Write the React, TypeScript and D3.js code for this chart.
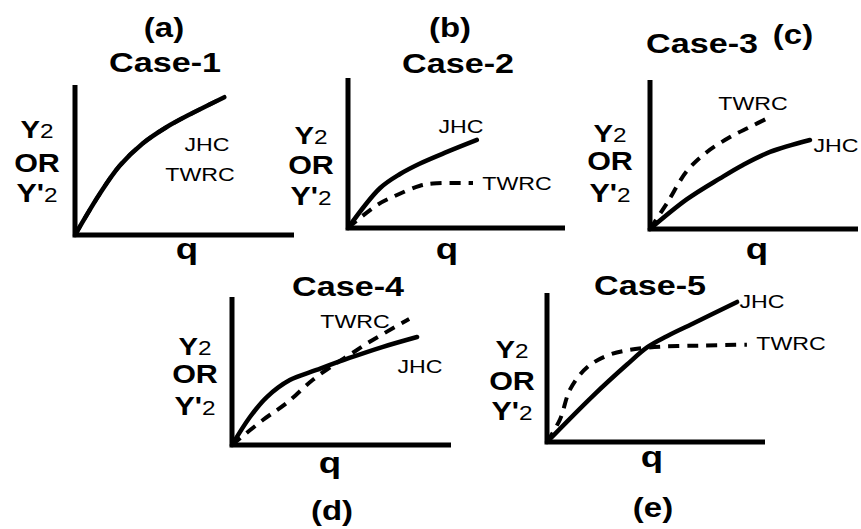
import React from 'react';
import * as d3 from 'd3';

// curve points as [q, Y] fractions of the drawn axis lengths
const jhcA: [number, number][] = [[0, 0], [0.111, 0.27], [0.203, 0.46], [0.309, 0.61], [0.419, 0.72], [0.539, 0.815], [0.682, 0.919]];
const twrcA: [number, number][] = [[0, 0], [0.111, 0.27], [0.203, 0.46], [0.309, 0.61], [0.419, 0.72], [0.539, 0.815], [0.682, 0.919]];

const jhcB: [number, number][] = [[0, 0], [0.147, 0.265], [0.24, 0.36], [0.332, 0.43], [0.456, 0.507], [0.594, 0.587]];
const twrcB: [number, number][] = [[0, 0], [0.134, 0.153], [0.226, 0.22], [0.332, 0.282], [0.41, 0.298], [0.576, 0.3]];

const jhcC: [number, number][] = [[0, 0], [0.178, 0.2], [0.337, 0.34], [0.447, 0.43], [0.577, 0.517], [0.769, 0.597]];
const twrcC: [number, number][] = [[0, 0], [0.082, 0.174], [0.178, 0.39], [0.274, 0.517], [0.385, 0.617], [0.481, 0.685], [0.577, 0.752]];

const jhcD: [number, number][] = [[0, 0], [0.082, 0.189], [0.159, 0.324], [0.264, 0.439], [0.386, 0.507], [0.536, 0.588], [0.686, 0.662], [0.845, 0.73]];
const twrcD: [number, number][] = [[0, 0], [0.141, 0.169], [0.25, 0.284], [0.368, 0.439], [0.477, 0.554], [0.536, 0.608], [0.627, 0.696], [0.809, 0.851]];

const jhcE: [number, number][] = [[0, 0], [0.211, 0.31], [0.367, 0.52], [0.459, 0.635], [0.55, 0.71], [0.67, 0.795], [0.872, 0.94]];
const twrcE: [number, number][] = [[0, 0], [0.06, 0.153], [0.106, 0.353], [0.183, 0.5], [0.289, 0.587], [0.459, 0.633], [0.702, 0.647], [0.917, 0.653]];

const caseTitles = ['Case-1', 'Case-2', 'Case-3', 'Case-4', 'Case-5'];
const panelTags = ['(a)', '(b)', '(c)', '(d)', '(e)'];
const seriesNames = ['JHC', 'TWRC'];
const xLabel = 'q';

const jhcSeries = [jhcA, jhcB, jhcC, jhcD, jhcE];
const twrcSeries = [twrcA, twrcB, twrcC, twrcD, twrcE];

// where each little plot sits on the page
const layout = [
  { x0: 75, y0: 235, top: 85, xEnd: 294, title: [165, 72], tag: [164, 37], ylab: [37, 138, 172, 202], q: [187, 259], jhc: [207, 151], twrc: [200, 181] },
  { x0: 348, y0: 228, top: 78, xEnd: 565, title: [458, 73], tag: [450, 37], ylab: [311, 144, 174, 205], q: [447, 259], jhc: [461, 133], twrc: [517, 190] },
  { x0: 650, y0: 229, top: 80, xEnd: 858, title: [702, 53], tag: [793, 44], ylab: [610, 142, 170, 202], q: [757, 259], jhc: [836, 152], twrc: [753, 110] },
  { x0: 232, y0: 445, top: 297, xEnd: 451, title: [348, 296], tag: [332, 520], ylab: [195, 355, 383, 415], q: [330, 473], jhc: [420, 373], twrc: [355, 328] },
  { x0: 547, y0: 442, top: 293, xEnd: 765, title: [650, 295], tag: [653, 517], ylab: [512, 358, 390, 420], q: [652, 467], jhc: [762, 308], twrc: [791, 350] },
];

const FONT = '"Liberation Sans", Arial, sans-serif';
const STRETCH = 1.22;

const Label = ({ x, y, size, bold = false, children }: any) => (
  <text
    transform={`translate(${x},${y}) scale(${STRETCH},1)`}
    textAnchor="middle"
    fontFamily={FONT}
    fontSize={size}
    fontWeight={bold ? 'bold' : 'normal'}
    fill="#000"
  >
    {children}
  </text>
);

const Panel = ({ i }: { i: number }) => {
  const L = layout[i];
  const x = d3.scaleLinear().domain([0, 1]).range([L.x0, L.xEnd]);
  const y = d3.scaleLinear().domain([0, 1]).range([L.y0, L.top]);
  const line = d3
    .line<[number, number]>()
    .x((d) => x(d[0]))
    .y((d) => y(d[1]))
    .curve(d3.curveCatmullRom.alpha(0.5));

  const axisPath = `M${x(0)},${y(1)}V${y(0)}H${x(1)}`;

  return (
    <g>
      <Label x={L.tag[0]} y={L.tag[1]} size={27} bold>{panelTags[i]}</Label>
      <Label x={L.title[0]} y={L.title[1]} size={28} bold>{caseTitles[i]}</Label>

      <Label x={L.ylab[0]} y={L.ylab[1]} size={24} bold>
        Y<tspan fontWeight="normal" fontSize={20}>2</tspan>
      </Label>
      <Label x={L.ylab[0]} y={L.ylab[2]} size={25} bold>OR</Label>
      <Label x={L.ylab[0]} y={L.ylab[3]} size={25} bold>
        Y'<tspan fontWeight="normal" fontSize={20}>2</tspan>
      </Label>

      <path d={axisPath} fill="none" stroke="#000" strokeWidth={5} strokeLinejoin="miter" />

      <path d={line(twrcSeries[i]) || ''} fill="none" stroke="#000" strokeWidth={4} strokeDasharray="11,8" />
      <path d={line(jhcSeries[i]) || ''} fill="none" stroke="#000" strokeWidth={4.5} strokeLinecap="round" />

      <Label x={L.jhc[0]} y={L.jhc[1]} size={19}>{seriesNames[0]}</Label>
      <Label x={L.twrc[0]} y={L.twrc[1]} size={19}>{seriesNames[1]}</Label>

      <Label x={L.q[0]} y={L.q[1]} size={30} bold>{xLabel}</Label>
    </g>
  );
};

export default function App() {
  return (
    <svg
      width={861}
      height={529}
      style={{ position: 'absolute', left: 0, top: 0, background: '#fff', display: 'block' }}
    >
      <rect width={861} height={529} fill="#fff" />
      {layout.map((_, i) => (
        <Panel key={i} i={i} />
      ))}
    </svg>
  );
}
